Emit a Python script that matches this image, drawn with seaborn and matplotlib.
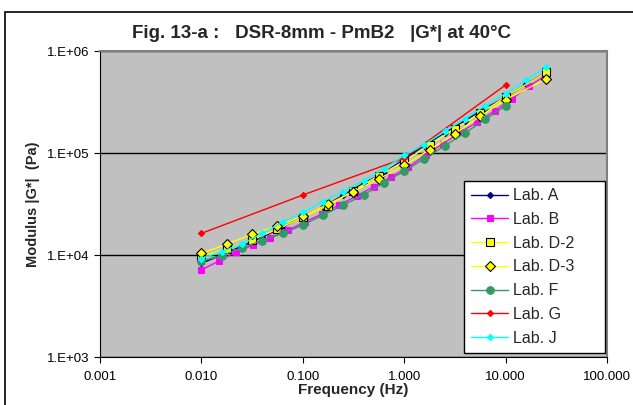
import numpy as np
import pandas as pd
import matplotlib
matplotlib.use("Agg")
import matplotlib.pyplot as plt
from matplotlib.patches import Rectangle
from matplotlib.ticker import FixedLocator, FuncFormatter, NullLocator
import seaborn as sns

# frequencies (Hz) per lab
freq_02 = [0.01, 0.0158, 0.0251, 0.0398, 0.0631, 0.1, 0.158, 0.251, 0.398, 0.631,
           1.0, 1.58, 2.51, 3.98, 6.31, 10.0, 15.8, 25.1]
freq_d = [0.01, 0.0178, 0.0316, 0.0562, 0.1, 0.178, 0.316, 0.562,
          1.0, 1.78, 3.16, 5.62, 10.0, 25.0]
freq_b = [0.01, 0.0148, 0.0219, 0.0324, 0.0479, 0.0709, 0.105, 0.155, 0.230, 0.340,
          0.503, 0.744, 1.10, 1.63, 2.41, 3.57, 5.28, 7.81, 11.6, 17.1, 25.3]
freq_f = freq_02[:16]
freq_g = [0.01, 0.1, 1.0, 10.0]

# |G*| (Pa)
lab_a = [8300, 10000, 12200, 15000, 18600, 24000, 29400, 38700, 50500, 64000,
         87000, 118000, 158000, 208000, 275000, 352000, 470000, 620000]
lab_b = [7150, 8700, 10740, 12500, 14760, 17400, 21200, 25200, 31200, 37700,
         46900, 58400, 72600, 96100, 123000, 160000, 201000, 259000, 342000, 453000, 581000]
lab_d2 = [9660, 11400, 14100, 17900, 23400, 30500, 42800, 60100,
          82600, 120500, 173000, 245000, 355000, 616000]
lab_d3 = [10400, 12800, 15900, 19400, 24000, 31500, 41900, 55700,
          75500, 108000, 154000, 229000, 334000, 530000]
lab_f = [8750, 9800, 11750, 13870, 16250, 19640, 24650, 30900, 38800, 50900,
         66400, 87800, 117800, 157000, 214000, 290000]
lab_g = [16300, 38700, 89000, 464000]
lab_j = [9230, 10800, 12800, 16300, 20900, 26200, 33400, 41900, 53700, 70000,
         94600, 121000, 163000, 217000, 290000, 383000, 518000, 690000]

sns.set_style("white")
plt.rcParams['font.family'] = ['Liberation Sans', 'DejaVu Sans']

fig = plt.figure(figsize=(6.33, 4.05), dpi=100)
ax = fig.add_axes([100/633, 1-357/405, 507/633, 306/405])
ax.set_facecolor("#C0C0C0")

series = [
    ("Lab. A", freq_02, lab_a, dict(color="#000080", marker="D", markersize=3.2, mec="#000080", lw=1)),
    ("Lab. B", freq_b, lab_b, dict(color="#FF00FF", marker="s", markersize=4, mec="#FF00FF", lw=1)),
    ("Lab. D-2", freq_d, lab_d2, dict(color="#FFFF00", marker="s", markersize=5.5, mec="black", mew=0.8, lw=1)),
    ("Lab. D-3", freq_d, lab_d3, dict(color="#FFFF00", marker="D", markersize=5, mec="black", mew=0.8, lw=1)),
    ("Lab. F", freq_f, lab_f, dict(color="#339966", marker="o", markersize=5.5, mec="#339966", lw=1)),
    ("Lab. G", freq_g, lab_g, dict(color="#FF0000", marker="D", markersize=3.2, mec="#FF0000", lw=1)),
    ("Lab. J", freq_02, lab_j, dict(color="#00FFFF", marker="D", markersize=3.2, mec="#00FFFF", lw=1)),
]

for name, fx, gy, st in series:
    df = pd.DataFrame({"f": fx, "g": gy})
    sns.lineplot(data=df, x="f", y="g", ax=ax, label=name, **st)

ax.set_xscale("log")
ax.set_yscale("log")
ax.set_xlim(0.001, 100)
ax.set_ylim(1e3, 1e6)

ax.xaxis.set_major_locator(FixedLocator([0.001, 0.01, 0.1, 1, 10, 100]))
ax.yaxis.set_major_locator(FixedLocator([1e3, 1e4, 1e5, 1e6]))
ax.xaxis.set_minor_locator(NullLocator())
ax.yaxis.set_minor_locator(NullLocator())
ax.xaxis.set_major_formatter(FuncFormatter(lambda v, p: f"{v:.3f}"))
ax.yaxis.set_major_formatter(FuncFormatter(lambda v, p: "1.E+%02d" % int(round(np.log10(v)))))
ax.tick_params(axis="both", direction="out", length=4, width=0.8, labelsize=9.5,
               bottom=True, left=True, colors="black")
ax.tick_params(axis="x", pad=6)
ax.yaxis.grid(True, color="black", lw=1)
ax.xaxis.grid(False)
for s in ["left", "bottom"]:
    ax.spines[s].set_color("black")
    ax.spines[s].set_linewidth(0.8)
for s in ["top", "right"]:
    ax.spines[s].set_color("#808080")
    ax.spines[s].set_linewidth(1.5)

ax.set_xlabel("Frequency (Hz)", fontsize=11, fontweight="bold", labelpad=0)
ax.set_ylabel("Modulus |G*|  (Pa)", fontsize=10.5, fontweight="bold", labelpad=5)
fig.text(322/633, 1-34/405, "Fig. 13-a :   DSR-8mm - PmB2   |G*| at 40\u00b0C",
         ha="center", va="center", fontsize=13.5, fontweight="bold")

leg = ax.legend(loc="lower left", bbox_to_anchor=((464-100)/507, (357-353)/306, 141/507, 179/306),
                mode="expand", fontsize=11.5, frameon=True, fancybox=False, borderpad=0.45,
                labelspacing=0.55, handlelength=2.3, handletextpad=0.3, borderaxespad=0,
                alignment="center")
leg.get_frame().set_edgecolor("black")
leg.get_frame().set_linewidth(1)
leg.get_frame().set_facecolor("white")
leg.get_frame().set_alpha(1)

fig.patches.append(Rectangle((5/633, -0.05), 1.1, 1-12/405+0.05, transform=fig.transFigure,
                             fill=False, edgecolor="black", lw=1.2))

fig.savefig("out.png", dpi=100, facecolor="white")
